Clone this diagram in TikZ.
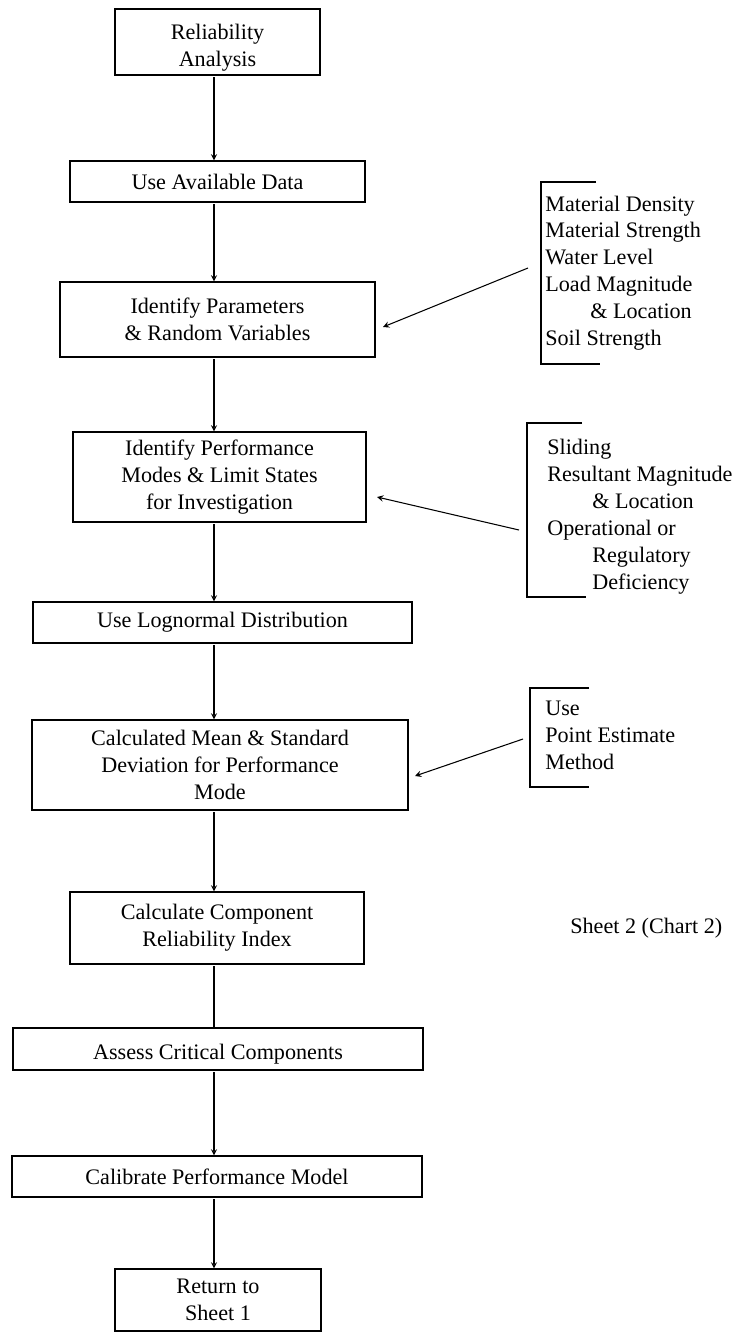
\documentclass[tikz,border=0pt]{standalone}
\usepackage{fontspec}
\setmainfont{Liberation Serif}
\usepackage{tikz}
\usetikzlibrary{calc}
\newcommand\lowr{\rule{0pt}{15pt}}
\tikzset{
	txt/.style={font=\fontsize{12.6}{15.3}\selectfont},
	stage/.style={txt,draw,semithick,align=center,inner sep=0pt},
	note/.style={txt,align=left,inner sep=0pt,anchor=west},
	flow/.style={semithick,shorten <=1pt,->},
	plain/.style={semithick,shorten <=1pt},
	feed/.style={semithick,->},
	brack/.style={semithick},
	>=stealth,
	}

\begin{document}
\begin{tikzpicture}
\useasboundingbox (0,0) rectangle (14.78,-26.64);
\coordinate (spine) at (4.28,0);

% main chain
\node (rel) at (4.35,-0.84) [stage,minimum width=4.1cm,minimum height=1.32cm] {\lowr Reliability\\Analysis};
\node (use) at (4.35,-3.63) [stage,minimum width=5.9cm,minimum height=0.82cm] {Use Available Data};
\node (par) at (4.35,-6.39) [stage,minimum width=6.3cm,minimum height=1.5cm] {Identify Parameters\\\& Random Variables};
\node (mod) at (4.39,-9.54) [stage,minimum width=5.86cm,minimum height=1.8cm] {Identify Performance\\Modes \& Limit States\\for Investigation};
\node (logn) at (4.45,-12.45) [stage,minimum width=7.58cm,minimum height=0.82cm] {Use Lognormal Distribution};
\node (mean) at (4.4,-15.3) [stage,minimum width=7.52cm,minimum height=1.8cm] {Calculated Mean \& Standard\\Deviation for Performance\\Mode};
\node (idx) at (4.34,-18.56) [stage,minimum width=5.88cm,minimum height=1.44cm] {Calculate Component\\Reliability Index};
\node (crit) at (4.36,-20.98) [stage,minimum width=8.2cm,minimum height=0.84cm] {\lowr Assess Critical Components};
\node (cal) at (4.34,-23.53) [stage,minimum width=8.2cm,minimum height=0.82cm] {Calibrate Performance Model};
\node (ret) at (4.36,-26.0) [stage,minimum width=4.12cm,minimum height=1.24cm] {Return to\\Sheet 1};

\foreach \a/\b in {rel/use,use/par,par/mod,mod/logn,logn/mean,mean/idx,crit/cal,cal/ret}
	\draw[flow] (\a.south -| spine) -- (\b.north -| spine);
\draw[plain] (idx.south -| spine) -- (crit.north -| spine);

% side notes
\node (vars) at (10.9,-5.46) [note] {Material Density\\Material Strength\\Water Level\\Load Magnitude\\\hspace*{0.9cm}\& Location\\Soil Strength};
\draw[brack] (11.92,-3.64) -- (10.82,-3.64) -- (10.82,-7.28) -- (12.0,-7.28);
\node (lims) at (10.94,-10.33) [note] {Sliding\\Resultant Magnitude\\\hspace*{0.9cm}\& Location\\Operational or\\\hspace*{0.9cm}Regulatory\\\hspace*{0.9cm}Deficiency};
\draw[brack] (11.64,-8.46) -- (10.54,-8.46) -- (10.54,-11.94) -- (11.72,-11.94);
\node (pem) at (10.9,-14.7) [note] {Use\\Point Estimate\\Method};
\draw[brack] (11.78,-13.76) -- (10.6,-13.76) -- (10.6,-15.74) -- (11.78,-15.74);
\node (sheet) at (11.4,-18.56) [note] {Sheet 2 (Chart 2)};

\coordinate (f1) at (10.56,-5.36);
\coordinate (t1) at (7.66,-6.54);
\coordinate (f2) at (10.38,-10.6);
\coordinate (t2) at (7.54,-9.94);
\coordinate (f3) at (10.46,-14.78);
\coordinate (t3) at (8.3,-15.52);
\foreach \s/\t in {f1/t1,f2/t2,f3/t3}
	\draw[feed] (\s) -- (\t);
\end{tikzpicture}
\end{document}
